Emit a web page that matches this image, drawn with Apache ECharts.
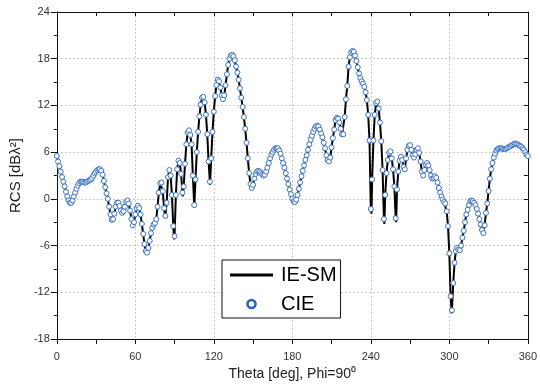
<!DOCTYPE html>
<html>
<head>
<meta charset="utf-8">
<script src="https://cdn.jsdelivr.net/npm/echarts@6/dist/echarts.min.js"></script>
<style>
  html, body { margin: 0; padding: 0; background: #fff; }
  #main { width: 540px; height: 391px; }
</style>
</head>
<body>
<div id="main"></div>
<script>
// RCS (dBλ²), one value per degree, theta = 0..360
const cie = [
  5.5, 4.8, 4.2, 3.5, 2.8, 2.2, 1.6, 0.9, 0.3, -0.2,
  -0.5, -0.5, -0.2, 0.3, 0.8, 1.3, 1.7, 2.0, 2.2, 2.2,
  2.2, 2.1, 2.1, 2.2, 2.3, 2.4, 2.5, 2.7, 3.0, 3.3,
  3.5, 3.7, 3.8, 3.8, 3.6, 3.1, 2.3, 1.5, 0.7, 0.0,
  -1.0, -2.0, -2.7, -2.6, -1.9, -1.0, -0.5, -0.5, -0.9, -1.5,
  -1.8, -1.6, -1.0, -0.4, -0.2, -0.6, -1.5, -2.6, -3.4, -3.0,
  -2.0, -1.2, -0.9, -1.2, -2.0, -3.2, -4.5, -5.8, -6.7, -6.9,
  -6.3, -5.4, -4.4, -3.7, -3.3, -3.1, -2.6, -1.0, 0.8, 2.0,
  2.1, 1.0, -1.2, -2.2, -0.5, 2.8, 3.7, 3.0, 0.5, -3.5,
  -4.8, 0.5, 3.8, 4.9, 4.6, 3.2, 0.8, 1.6, 4.5, 7.0,
  8.5, 8.8, 8.2, 7.0, 3.0, -0.8, 2.5, 6.0, 8.6, 10.6,
  12.1, 13.0, 13.1, 12.4, 10.8, 8.3, 4.8, 2.2, 5.2, 8.6,
  11.2, 13.2, 14.6, 15.3, 15.1, 14.3, 13.3, 12.8, 13.3, 14.6,
  16.0, 17.2, 18.0, 18.4, 18.5, 18.3, 17.8, 17.0, 16.2, 15.3,
  14.2, 13.0, 11.8, 10.5, 9.0, 7.2, 5.2, 3.3, 1.9, 1.4,
  1.8, 2.6, 3.2, 3.5, 3.6, 3.5, 3.3, 3.1, 3.0, 3.1,
  3.5, 4.0, 4.6, 5.2, 5.7, 6.0, 6.3, 6.5, 6.5, 6.5,
  6.2, 5.8, 5.2, 4.6, 4.0, 3.3, 2.6, 1.9, 1.2, 0.6,
  0.0, -0.3, -0.4, -0.1, 0.5, 1.3, 2.1, 2.9, 3.6, 4.3,
  5.0, 5.6, 6.3, 7.0, 7.6, 8.1, 8.6, 9.0, 9.3, 9.4,
  9.3, 8.9, 8.4, 7.9, 7.2, 6.5, 5.6, 5.0, 4.8, 5.3,
  6.6, 7.8, 8.9, 10.1, 10.4, 10.3, 9.8, 9.0, 8.3, 8.3,
  10.5, 12.8, 14.5, 17.0, 18.2, 18.8, 19.0, 18.9, 18.4, 17.7,
  16.9, 16.1, 15.5, 15.1, 14.8, 14.4, 13.7, 12.7, 10.8, 7.5,
  -1.3, 2.5, 7.5, 10.8, 12.3, 12.5, 11.6, 9.8, 7.4, 3.7,
  -2.6, 0.5, 3.3, 5.0, 5.9, 6.1, 5.2, 3.8, 1.6, -2.5,
  1.2, 3.5, 4.9, 5.4, 5.0, 4.1, 3.8, 5.2, 6.3, 6.8,
  6.9, 6.3, 5.6, 5.3, 5.7, 6.3, 6.5, 5.9, 4.8, 3.5,
  3.0, 3.7, 4.4, 4.6, 4.3, 3.7, 3.0, 2.6, 2.7, 2.9,
  2.7, 2.1, 1.4, 0.8, 0.3, -0.1, -0.4, -0.6, -1.6, -3.5,
  -7.0, -12.5, -14.3, -10.8, -8.2, -6.7, -6.3, -6.5, -6.6, -6.0,
  -5.0, -4.1, -3.0, -2.0, -1.4, -0.8, -0.3, -0.2, -0.3, -0.5,
  -0.8, -1.3, -1.9, -2.6, -3.3, -4.0, -4.4, -3.4, -1.8, -0.6,
  1.0, 2.6, 3.8, 4.6, 5.3, 5.8, 6.2, 6.4, 6.5, 6.5,
  6.5, 6.4, 6.4, 6.4, 6.5, 6.6, 6.7, 6.8, 6.9, 7.0,
  7.1, 7.1, 7.0, 6.9, 6.8, 6.7, 6.5, 6.3, 6.0, 5.7,
  5.5
];
// deeper nulls of the IE-SM line that fall between the CIE samples
const iesmNullTheta = [82.8, 89.7, 96.2, 105.1, 117.1, 240.5, 250.4, 259.4, 301.8];
const iesmNullValue = [-2.4, -5.2, 0.3, -1.1, 1.8, -1.9, -3.2, -3.0, -14.7];

const xTicks = [0, 60, 120, 180, 240, 300, 360];
const yTicks = [-18, -12, -6, 0, 6, 12, 18, 24];

const cieData = cie.map((v, i) => [i, v]);
const iesmData = cieData
  .concat(iesmNullTheta.map((t, i) => [t, iesmNullValue[i]]))
  .sort((a, b) => a[0] - b[0]);

const chart = echarts.init(document.getElementById('main'), null, { renderer: 'canvas' });
const labelFont = "'Liberation Sans Narrow', 'Arial Narrow', 'Liberation Sans', Arial, sans-serif";
const gridLine = { show: true, lineStyle: { color: '#c8c8c8', type: [2, 2], width: 1 } };
const axisLine = { show: true, onZero: false, lineStyle: { color: '#111', width: 1 } };
const xMin = xTicks[0], xMax = xTicks[xTicks.length - 1];
const yMin = yTicks[0], yMax = yTicks[yTicks.length - 1];

// tick-only axes (every half step), no labels or grid
function xTickAxis(pos, inside, len) {
  return {
    type: 'value', position: pos, min: xMin, max: xMax, interval: 30,
    axisLine: axisLine,
    axisTick: { show: true, inside: inside, length: len, lineStyle: { color: '#111' } },
    axisLabel: { show: false },
    splitLine: { show: false }
  };
}
function yTickAxis(pos, inside, len) {
  return {
    type: 'value', position: pos, min: yMin, max: yMax, interval: 3,
    axisLine: axisLine,
    axisTick: { show: true, inside: inside, length: len, lineStyle: { color: '#111' } },
    axisLabel: { show: false },
    splitLine: { show: false }
  };
}

const option = {
  backgroundColor: '#fff',
  animation: false,
  grid: { left: 56, right: 10, top: 12, bottom: 52 },
  legend: {
    orient: 'vertical',
    left: 222,
    top: 260,
    padding: [5, 4, 4, 8],
    itemGap: 9,
    itemWidth: 43,
    itemHeight: 8,
    backgroundColor: '#fff',
    borderColor: '#111',
    borderWidth: 1,
    borderRadius: 0,
    textStyle: { fontSize: 20, color: '#000', fontFamily: 'Liberation Sans, Arial, sans-serif', padding: [0, 0, 0, 3] },
    data: [
      { name: 'IE-SM', icon: 'path://M0,0L43,0L43,3L0,3Z', itemStyle: { color: '#000', borderWidth: 0 } },
      { name: 'CIE', icon: 'circle', itemStyle: { color: '#fff', borderColor: '#2a62b8', borderWidth: 2.6 } }
    ]
  },
  xAxis: [
    {
      type: 'value',
      min: xMin,
      max: xMax,
      interval: 60,
      name: 'Theta [deg], Phi=90⁰',
      nameLocation: 'middle',
      nameGap: 28,
      nameTextStyle: { fontSize: 14, color: '#222', fontFamily: labelFont },
      axisLine: axisLine,
      axisTick: { show: false },
      axisLabel: { margin: 12, fontSize: 11, color: '#333', fontFamily: labelFont },
      splitLine: gridLine
    },
    xTickAxis('bottom', false, 5),
    xTickAxis('top', true, 4)
  ],
  yAxis: [
    {
      type: 'value',
      min: yMin,
      max: yMax,
      interval: 6,
      name: 'RCS [dBλ²]',
      nameLocation: 'middle',
      nameGap: 28,
      nameTextStyle: { fontSize: 15, color: '#222', fontFamily: labelFont },
      axisLine: axisLine,
      axisTick: { show: true, inside: false, length: 6, lineStyle: { color: '#111' } },
      axisLabel: { margin: 7, fontSize: 11, color: '#333', fontFamily: labelFont },
      splitLine: gridLine
    },
    yTickAxis('left', false, 3),
    yTickAxis('right', true, 4)
  ],
  series: [
    {
      name: 'IE-SM',
      type: 'line',
      data: iesmData,
      symbol: 'none',
      smooth: false,
      lineStyle: { color: '#000', width: 2 },
      itemStyle: { color: '#000' },
      z: 2
    },
    {
      name: 'CIE',
      type: 'line',
      data: cieData,
      symbol: 'circle',
      symbolSize: 5,
      lineStyle: { width: 0, opacity: 0 },
      itemStyle: { color: '#fff', borderColor: '#3a72c4', borderWidth: 1 },
      z: 3
    }
  ]
};

chart.setOption(option);
</script>
</body>
</html>
